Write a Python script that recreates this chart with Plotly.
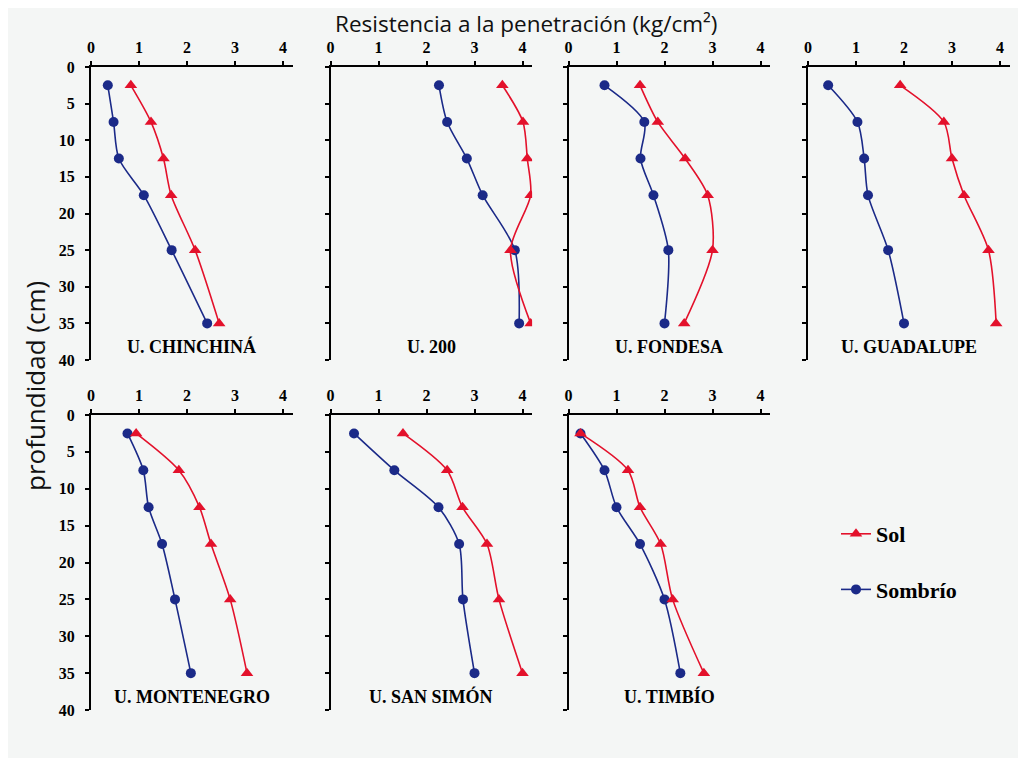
import plotly.graph_objects as go

# ---- data ----
depth = [2.5, 7.5, 12.5, 17.5, 25, 35]
sites = ["U. CHINCHINÁ", "U. 200", "U. FONDESA", "U. GUADALUPE",
         "U. MONTENEGRO", "U. SAN SIMÓN", "U. TIMBÍO"]

sol_chinchina = [0.83, 1.25, 1.51, 1.67, 2.17, 2.67]
sombrio_chinchina = [0.35, 0.47, 0.58, 1.10, 1.68, 2.42]
sol_200 = [3.58, 4.01, 4.10, 4.17, 3.75, 4.17]
sombrio_200 = [2.26, 2.43, 2.84, 3.17, 3.84, 3.93]
sol_fondesa = [1.49, 1.86, 2.43, 2.90, 3.00, 2.41]
sombrio_fondesa = [0.75, 1.58, 1.50, 1.77, 2.08, 2.00]
sol_guadalupe = [1.92, 2.83, 3.00, 3.25, 3.76, 3.92]
sombrio_guadalupe = [0.42, 1.03, 1.17, 1.25, 1.67, 2.00]
sol_montenegro = [0.94, 1.83, 2.26, 2.50, 2.90, 3.25]
sombrio_montenegro = [0.76, 1.09, 1.20, 1.48, 1.75, 2.08]
sol_sansimon = [1.51, 2.43, 2.75, 3.26, 3.51, 4.00]
sombrio_sansimon = [0.49, 1.33, 2.25, 2.68, 2.76, 3.00]
sol_timbio = [0.25, 1.24, 1.49, 1.92, 2.17, 2.82]
sombrio_timbio = [0.25, 0.75, 1.00, 1.49, 2.00, 2.33]

sol_all = [sol_chinchina, sol_200, sol_fondesa, sol_guadalupe,
           sol_montenegro, sol_sansimon, sol_timbio]
sombrio_all = [sombrio_chinchina, sombrio_200, sombrio_fondesa, sombrio_guadalupe,
               sombrio_montenegro, sombrio_sansimon, sombrio_timbio]

x_ticks = [0, 1, 2, 3, 4]
y_ticks = [0, 5, 10, 15, 20, 25, 30, 35, 40]

RED = "#e3112b"
BLUE = "#1b2a88"
BG = "#f4f6f5"
W, H = 1018, 750   # page body margin of 8px gives the white band
OFF = 8

# panel layout (screen pixels)
col_x0 = [91, 330.5, 568.5, 808]
panel_w = 201.6
rows = [(67, 360), (415, 710)]

fig = go.Figure()
SERIF = "Liberation Serif"
SANS = "Open Sans"

for i, site in enumerate(sites):
    r, c = divmod(i, 4)
    n = i + 1
    xa = "x" if n == 1 else f"x{n}"
    ya = "y" if n == 1 else f"y{n}"
    fig.add_trace(go.Scatter(
        x=sombrio_all[i], y=depth, mode="lines+markers", name="Sombrío",
        legendgroup="sombrio", showlegend=(i == 0), legendrank=2,
        line=dict(color=BLUE, width=1.6, shape="spline", smoothing=0.8),
        marker=dict(symbol="circle", size=10, color=BLUE),
        xaxis=xa, yaxis=ya))
    fig.add_trace(go.Scatter(
        x=sol_all[i], y=depth, mode="lines+markers", name="Sol",
        legendgroup="sol", showlegend=(i == 0), legendrank=1,
        line=dict(color=RED, width=1.6, shape="spline", smoothing=0.8),
        marker=dict(symbol="triangle-up", size=11, color=RED),
        xaxis=xa, yaxis=ya))

    x0 = (col_x0[c] - OFF) / W
    x1 = (col_x0[c] + panel_w - OFF) / W
    yt, yb = rows[r]
    y0 = 1 - (yb - OFF) / H
    y1 = 1 - (yt - OFF) / H
    tf = dict(family=SERIF, size=16, color="black", weight="bold")
    common = dict(showgrid=False, zeroline=False, showline=True,
                  linecolor="black", linewidth=2, ticks="outside",
                  ticklen=4, tickwidth=1.5, tickcolor="black",
                  tickfont=tf, fixedrange=True, automargin=False)
    fig.layout["xaxis" if n == 1 else f"xaxis{n}"] = dict(
        domain=[x0, x1], range=[0, 4.2], side="top", anchor=ya,
        tickvals=x_ticks, ticktext=[str(v) for v in x_ticks],
        ticklabelstandoff=2, **common)
    fig.layout["yaxis" if n == 1 else f"yaxis{n}"] = dict(
        domain=[y0, y1], range=[40, 0], anchor=xa,
        tickvals=y_ticks,
        ticktext=[str(v) for v in y_ticks] if c == 0 else [""] * len(y_ticks),
        ticklabelstandoff=7, **common)
    fig.add_annotation(
        text=site, xref=f"{xa} domain", yref=f"{ya} domain",
        x=0.5, y=0, xanchor="center", yanchor="bottom", yshift=1,
        showarrow=False,
        font=dict(family=SERIF, size=18, color="black", weight="bold"))

# titles
fig.add_annotation(text="Resistencia a la penetración (kg/cm²)",
                   xref="paper", yref="paper", x=(526 - OFF) / W, y=1,
                   xanchor="center", yanchor="top", yshift=1, showarrow=False,
                   borderpad=0,
                   font=dict(family=SANS, size=22.5, color="#111"))
fig.add_annotation(text="profundidad (cm)", textangle=-90,
                   xref="paper", yref="paper", x=(35 - OFF) / W,
                   y=1 - (386 - OFF) / H,
                   xanchor="center", yanchor="middle", showarrow=False,
                   font=dict(family=SANS, size=26, color="#111"))

fig.update_layout(
    width=W, height=H, margin=dict(l=0, r=0, t=0, b=0, autoexpand=False),
    paper_bgcolor=BG, plot_bgcolor="rgba(0,0,0,0)",
    showlegend=True,
    legend=dict(x=(836 - OFF) / W, y=1 - (513 - OFF) / H,
                xanchor="left", yanchor="top",
                bgcolor="rgba(0,0,0,0)", tracegroupgap=24,
                font=dict(family=SERIF, size=22, color="black", weight="bold"),
                traceorder="grouped"),
)

fig.write_html("out.html")
